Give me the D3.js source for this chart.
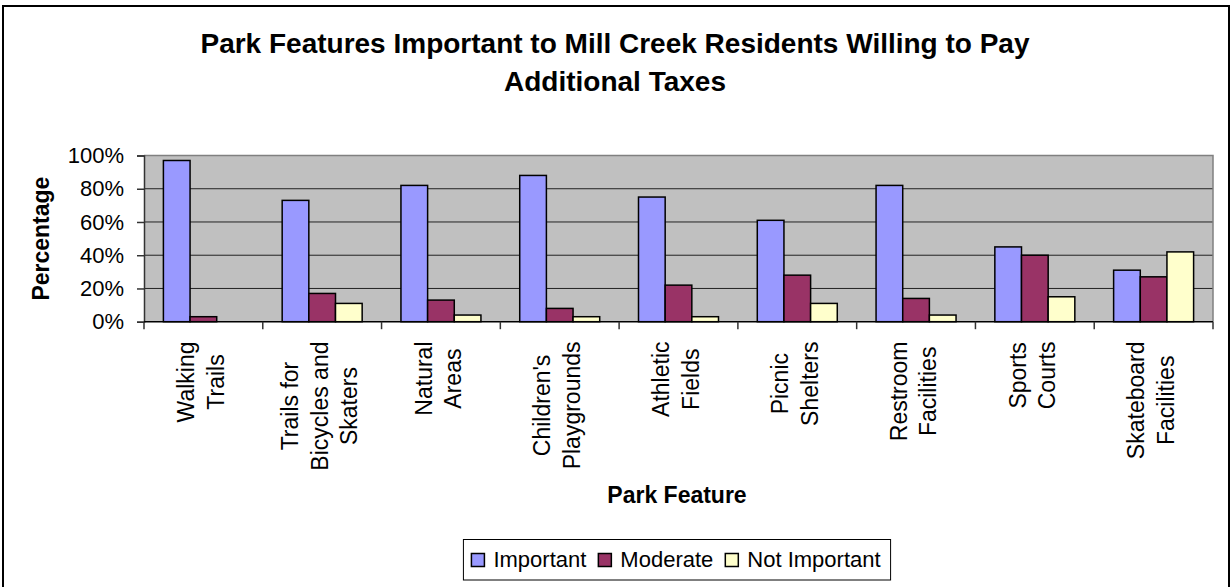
<!DOCTYPE html>
<html>
<head>
<meta charset="utf-8">
<script src="https://cdn.jsdelivr.net/npm/d3@7"></script>
<style>
  body { margin: 0; background: #fff; }
  svg { display: block; font-family: "Liberation Sans", Arial, sans-serif; }
</style>
</head>
<body>
<div id="chart"></div>
<script>
(function(){
  var width = 1231;
  var height = 587;

  // data (percent)
  var categories = ["Walking Trails", "Trails for Bicycles and Skaters", "Natural Areas",
    "Children's Playgrounds", "Athletic Fields", "Picnic Shelters", "Restroom Facilities",
    "Sports Courts", "Skateboard Facilities"];
  var labelLines = [["Walking", "Trails"], ["Trails for", "Bicycles and", "Skaters"],
    ["Natural", "Areas"], ["Children's", "Playgrounds"], ["Athletic", "Fields"],
    ["Picnic", "Shelters"], ["Restroom", "Facilities"], ["Sports", "Courts"],
    ["Skateboard", "Facilities"]];
  var seriesNames = ["Important", "Moderate", "Not Important"];
  var important = [97, 73, 82, 88, 75, 61, 82, 45, 31];
  var moderate = [3, 17, 13, 8, 22, 28, 14, 40, 27];
  var notImportant = [0, 11, 4, 3, 3, 11, 4, 15, 42];
  var yTicks = [0, 20, 40, 60, 80, 100];
  var colors = ["#9999FF", "#993366", "#FFFFCC"];

  var series = [important, moderate, notImportant];

  var left = 144, right = 1213, top = 155.5, bottom = 321.7;

  var svg = d3.select("#chart")
    .append("svg")
    .attr("width", width)
    .attr("height", height);

  // outer chart border
  svg.append("rect")
    .attr("x", 3).attr("y", 6)
    .attr("width", 1226).attr("height", 600)
    .attr("fill", "none")
    .attr("stroke", "#000")
    .attr("stroke-width", 2);

  var x0 = d3.scaleBand().domain(categories).range([left, right])
    .paddingInner(0.3266).paddingOuter(0.1633);
  var x1 = d3.scaleBand().domain(seriesNames).range([0, x0.bandwidth()]);
  var y = d3.scaleLinear().domain([0, 100]).range([bottom, top]);

  // plot area
  svg.append("rect")
    .attr("x", left).attr("y", top)
    .attr("width", right - left).attr("height", bottom - top)
    .attr("fill", "#C0C0C0");

  svg.append("g")
    .selectAll("line")
    .data(yTicks.filter(function(d){ return d > 0 && d < 100; }))
    .enter().append("line")
    .attr("x1", left).attr("x2", right)
    .attr("y1", function(d){ return y(d); })
    .attr("y2", function(d){ return y(d); })
    .attr("stroke", "#222")
    .attr("stroke-width", 1);

  // top / right border of plot area
  svg.append("path")
    .attr("d", "M" + left + "," + y(100) + "H" + right + "V" + bottom)
    .attr("fill", "none")
    .attr("stroke", "#808080")
    .attr("stroke-width", 1.5);

  // bars
  var groups = svg.append("g")
    .selectAll("g")
    .data(categories)
    .enter().append("g")
    .attr("transform", function(d){ return "translate(" + x0(d) + ",0)"; });

  groups.selectAll("rect")
    .data(function(d, i){
      return seriesNames.map(function(s, j){ return {key: s, value: series[j][i], color: colors[j]}; })
        .filter(function(e){ return e.value > 0; });
    })
    .enter().append("rect")
    .attr("x", function(d){ return x1(d.key); })
    .attr("y", function(d){ return y(d.value); })
    .attr("width", x1.bandwidth())
    .attr("height", function(d){ return y(0) - y(d.value); })
    .attr("fill", function(d){ return d.color; })
    .attr("stroke", "#000")
    .attr("stroke-width", 1.5);

  // y axis
  var yAxis = svg.append("g")
    .attr("transform", "translate(" + left + ",0)")
    .call(d3.axisLeft(y).tickValues(yTicks).tickSize(7).tickPadding(13)
      .tickFormat(function(d){ return d + "%"; }));
  yAxis.select(".domain").attr("stroke", "#333").attr("stroke-width", 1.5);
  yAxis.selectAll(".tick line").attr("stroke", "#333").attr("stroke-width", 1.5);
  yAxis.selectAll("text")
    .attr("font-size", 22)
    .attr("fill", "#000")
    .attr("font-family", "Liberation Sans, Arial, sans-serif");

  // x axis line and category ticks
  svg.append("line")
    .attr("x1", left).attr("x2", right)
    .attr("y1", bottom).attr("y2", bottom)
    .attr("stroke", "#000").attr("stroke-width", 1.5);

  var gap = x0.step() * x0.paddingInner() / 2;
  var bounds = categories.map(function(c){ return x0(c) - gap; }).concat([right]);
  svg.append("g")
    .selectAll("line")
    .data(bounds)
    .enter().append("line")
    .attr("x1", function(d){ return d; }).attr("x2", function(d){ return d; })
    .attr("y1", bottom).attr("y2", bottom + 7.5)
    .attr("stroke", "#333").attr("stroke-width", 1.5);

  // category labels, rotated
  var lineH = 29.5;
  var labels = svg.append("g")
    .selectAll("g")
    .data(categories)
    .enter().append("g");

  labels.each(function(c, i){
    var g = d3.select(this);
    var lines = labelLines[i];
    var cx = x0(c) + x0.bandwidth() / 2;
    var n = lines.length;
    var texts = lines.map(function(t, k){
      return g.append("text")
        .attr("font-size", 23)
        .attr("text-anchor", "middle")
        .text(t)
        .datum(k);
    });
    var maxLen = d3.max(texts, function(t){ return t.node().getComputedTextLength(); });
    var cy = 341.5 + maxLen / 2;
    texts.forEach(function(t, k){
      var bx = cx + (k - (n - 1) / 2) * lineH + 5.5;
      t.attr("transform", "translate(" + bx + "," + cy + ") rotate(-90)");
    });
  });

  // axis titles
  svg.append("text")
    .attr("transform", "translate(48.5," + ((top + bottom) / 2) + ") rotate(-90)")
    .attr("text-anchor", "middle")
    .attr("font-size", 23)
    .attr("font-weight", "bold")
    .text("Percentage");

  svg.append("text")
    .attr("x", 677).attr("y", 503)
    .attr("text-anchor", "middle")
    .attr("font-size", 23)
    .attr("font-weight", "bold")
    .text("Park Feature");

  // title
  var title = svg.append("text")
    .attr("text-anchor", "middle")
    .attr("font-size", 28)
    .attr("font-weight", "bold");
  title.append("tspan").attr("x", 615).attr("y", 53)
    .text("Park Features Important to Mill Creek Residents Willing to Pay");
  title.append("tspan").attr("x", 615).attr("y", 91)
    .text("Additional Taxes");

  // legend
  var legend = svg.append("g");
  var box = legend.append("rect")
    .attr("y", 539.5).attr("height", 40.5)
    .attr("fill", "#fff")
    .attr("stroke", "#000")
    .attr("stroke-width", 1);

  var lx = 0;
  var items = legend.append("g");
  seriesNames.forEach(function(s, j){
    items.append("rect")
      .attr("x", lx).attr("y", 553.5)
      .attr("width", 13).attr("height", 13)
      .attr("fill", colors[j])
      .attr("stroke", "#000")
      .attr("stroke-width", 1.5);
    var t = items.append("text")
      .attr("x", lx + 22).attr("y", 567)
      .attr("font-size", 22)
      .text(s);
    lx += 22 + t.node().getComputedTextLength() + 12;
  });
  var itemsW = lx - 12;
  var boxW = itemsW + 18;
  var bx0 = 677 - boxW / 2;
  box.attr("x", bx0).attr("width", boxW);
  items.attr("transform", "translate(" + (bx0 + 8) + ",0)");
})();
</script>
</body>
</html>
